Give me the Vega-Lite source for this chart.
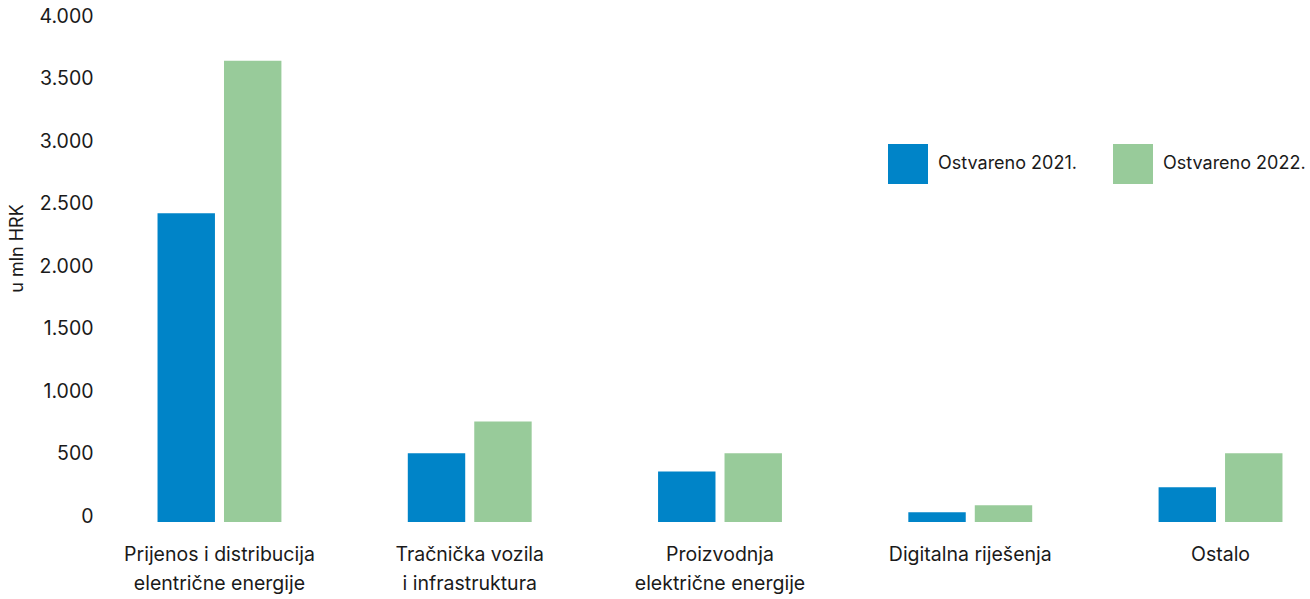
{
  "$schema": "https://vega.github.io/schema/vega-lite/v6.json",
  "autosize": "none",
  "padding": {"left": 130, "top": 22, "right": 0, "bottom": 77},
  "width": 1180,
  "height": 500,
  "config": {"view": {"stroke": null}, "font": "Inter"},
  "data": {
    "values": [
      {"kategorija": "Prijenos i distribucija|elentrične energije", "serija": "Ostvareno 2021.", "iznos": 2470},
      {"kategorija": "Prijenos i distribucija|elentrične energije", "serija": "Ostvareno 2022.", "iznos": 3690},
      {"kategorija": "Tračnička vozila|i infrastruktura", "serija": "Ostvareno 2021.", "iznos": 550},
      {"kategorija": "Tračnička vozila|i infrastruktura", "serija": "Ostvareno 2022.", "iznos": 805},
      {"kategorija": "Proizvodnja|električne energije", "serija": "Ostvareno 2021.", "iznos": 405},
      {"kategorija": "Proizvodnja|električne energije", "serija": "Ostvareno 2022.", "iznos": 550},
      {"kategorija": "Digitalna riješenja", "serija": "Ostvareno 2021.", "iznos": 78},
      {"kategorija": "Digitalna riješenja", "serija": "Ostvareno 2022.", "iznos": 134},
      {"kategorija": "Ostalo", "serija": "Ostvareno 2021.", "iznos": 278},
      {"kategorija": "Ostalo", "serija": "Ostvareno 2022.", "iznos": 550}
    ]
  },
  "mark": {"type": "bar"},
  "encoding": {
    "x": {
      "field": "kategorija",
      "type": "nominal",
      "sort": null,
      "scale": {"paddingInner": 0.505, "paddingOuter": 0.11},
      "axis": {
        "title": null,
        "labelAngle": 0,
        "domain": false,
        "ticks": false,
        "labelPadding": 23,
        "labelFontSize": 19.5,
        "labelColor": "#1a1a1a",
        "labelLineHeight": 29,
        "labelLimit": 400,
        "labelOverlap": false,
        "labelExpr": "split(datum.label, '|')"
      }
    },
    "xOffset": {
      "field": "serija",
      "type": "nominal",
      "scale": {"paddingInner": 0.136, "paddingOuter": 0}
    },
    "y": {
      "field": "iznos",
      "type": "quantitative",
      "scale": {"domain": [0, 4000], "nice": false},
      "axis": {
        "title": "u mln HRK",
        "titleFontSize": 18,
        "titleFontWeight": "normal",
        "titleColor": "#1a1a1a",
        "titleX": -113,
        "titleY": 226,
        "titleBaseline": "middle",
        "values": [0, 500, 1000, 1500, 2000, 2500, 3000, 3500, 4000],
        "labelExpr": "replace(format(datum.value, ','), ',', '.')",
        "labelBaseline": "alphabetic",
        "labelFontSize": 19.5,
        "labelColor": "#1a1a1a",
        "labelPadding": 37,
        "grid": false,
        "domain": false,
        "ticks": false
      }
    },
    "color": {
      "field": "serija",
      "type": "nominal",
      "scale": {"range": ["#0084C8", "#98CB9A"]},
      "legend": {
        "title": null,
        "orient": "none",
        "legendX": 758,
        "legendY": 122,
        "direction": "horizontal",
        "symbolType": "square",
        "symbolSize": 1600,
        "symbolStrokeWidth": 0,
        "symbolOpacity": 1,
        "labelFontSize": 18,
        "labelColor": "#1a1a1a",
        "labelOffset": 10,
        "columnPadding": 36
      }
    }
  }
}
